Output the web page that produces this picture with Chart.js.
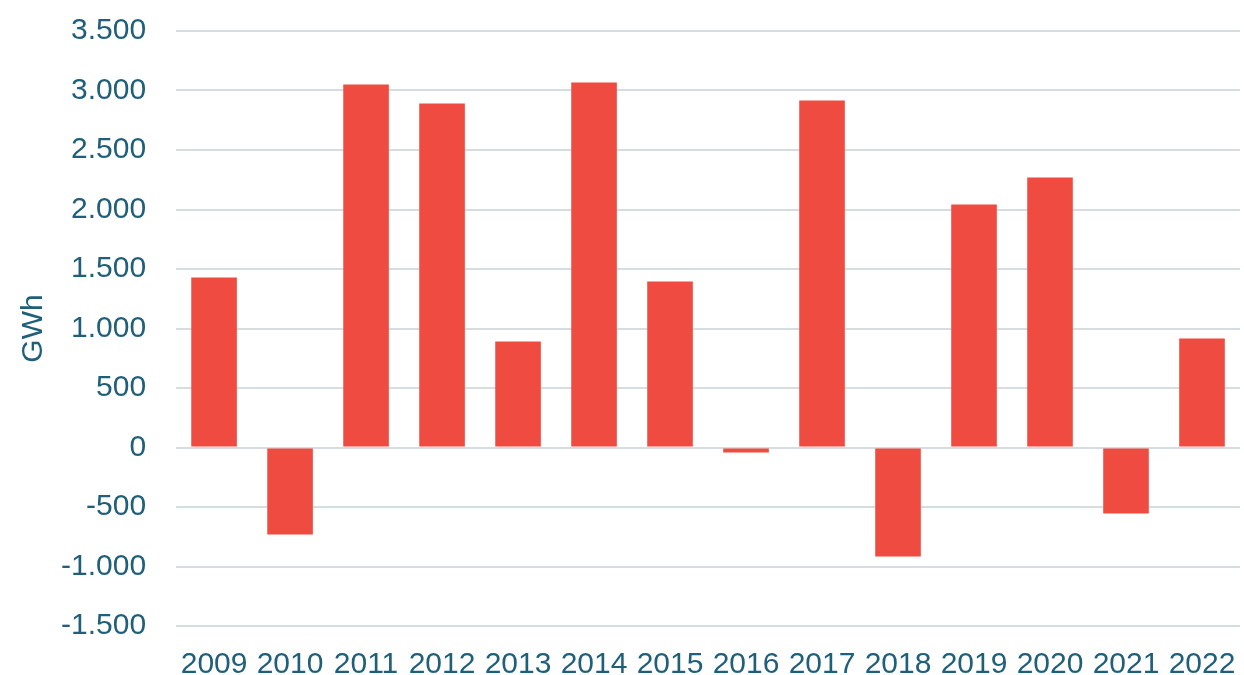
<!DOCTYPE html>
<html>
<head>
<meta charset="utf-8">
<script src="https://cdn.jsdelivr.net/npm/chart.js@4"></script>
<style>
    html, body { margin: 0; padding: 0; background: #fff; }
    #wrap { width: 1244px; height: 675px; }
</style>
</head>
<body>
<div id="wrap"><canvas id="bar-chart"></canvas></div>
<script>
let years = ['2009', '2010', '2011', '2012', '2013', '2014', '2015', '2016', '2017', '2018', '2019', '2020', '2021', '2022']
let gwhValues = [1428, -731, 3050, 2891, 891, 3067, 1395, -42, 2916, -916, 2042, 2269, -555, 916]
let yTicks = [-1500, -1000, -500, 0, 500, 1000, 1500, 2000, 2500, 3000, 3500]

let textColor = '#1f5f7a'
let barColor = '#ef4b41'

// dot as thousands separator, like the original
function formatNumber(v) {
    let s = Math.abs(v).toString().replace(/\B(?=(\d{3})+(?!\d))/g, '.')
    return (v < 0 ? '-' : '') + s
}

Chart.defaults.font.family = '"Liberation Sans", Arial, sans-serif'
Chart.defaults.color = textColor

new Chart(document.getElementById('bar-chart'), {
    type: 'bar',
    data: {
        labels: years,
        datasets: [{
            data: gwhValues,
            backgroundColor: barColor,
            barPercentage: 0.6,
            categoryPercentage: 1
        }]
    },
    options: {
        responsive: true,
        maintainAspectRatio: false,
        animation: false,
        layout: { padding: { top: 31, right: 4, left: 16, bottom: -11 } },
        plugins: {
            legend: { display: false },
            tooltip: { enabled: false }
        },
        scales: {
            x: {
                // invisible tick marks give the gap under the plot
                grid: { drawOnChartArea: false, tickLength: 18, tickColor: 'transparent' },
                border: { display: false },
                ticks: { font: { size: 30 }, padding: 3, maxRotation: 0, autoSkip: false }
            },
            y: {
                min: -1500,
                max: 3500,
                afterBuildTicks: axis => { axis.ticks = yTicks.map(v => ({ value: v })) },
                grid: { color: '#d6dde0', lineWidth: 2, tickLength: 27, tickColor: 'transparent' },
                border: { display: false },
                ticks: {
                    font: { size: 30 },
                    padding: 3,
                    callback: v => formatNumber(v)
                },
                title: {
                    display: true,
                    text: 'GWh',
                    font: { size: 30 },
                    padding: { top: 0, bottom: 6 }
                }
            }
        }
    }
})
</script>
</body>
</html>
